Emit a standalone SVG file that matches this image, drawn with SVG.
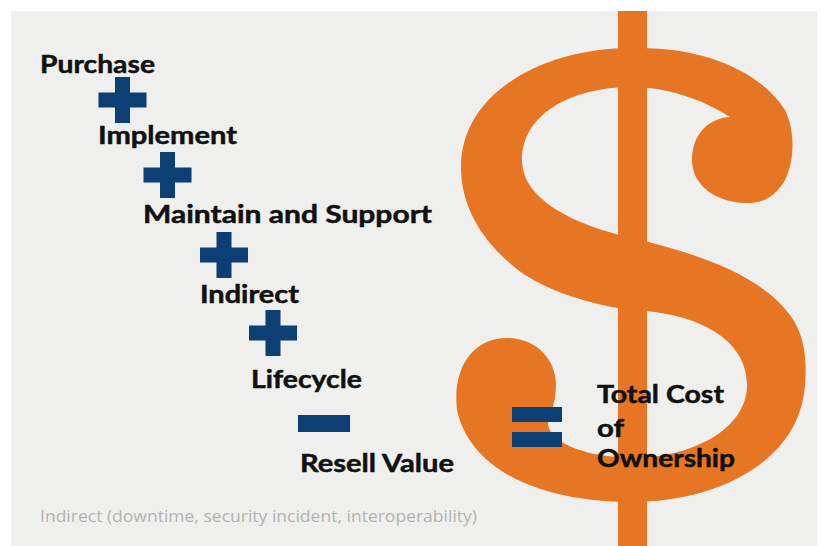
<svg xmlns="http://www.w3.org/2000/svg" width="824" height="546" viewBox="0 0 824 546">
  <style>
    .term { font-family: Lato, "Open Sans", "Liberation Sans", sans-serif; font-weight: 700; font-size: 25px; fill: #111111; stroke: #111111; stroke-width: 0.5px; }
    .op { fill: #0C3F74; }
    .note { font-family: "Open Sans", "Liberation Sans", sans-serif; font-size: 16px; fill: #b3b3b3; }
    .dollar { fill: #E67623; }
  </style>
  <defs>
    <path id="plus" d="M-7.5,-23 H7.5 V-7.5 H24 V7.5 H7.5 V23 H-7.5 V7.5 H-24 V-7.5 H-7.5 Z"/>
  </defs>
  <rect x="0" y="0" width="824" height="546" fill="#ffffff"/>
  <rect x="11" y="11" width="806" height="535" fill="#efefed"/>

  <g id="dollar-sign">
    <path class="dollar" d="M632,48
      C700,46 760,70 785,110
      C795,130 795,160 785,180
      C775,198 760,204 745,203
      C715,202 692,185 692,160
      C692,135 708,118 730,117
      C700,98 665,87 632,87
      C570,87 522,115 522,160
      C522,200 575,225 632,238
      C700,254 760,275 790,315
      C805,335 807,360 805,385
      C800,460 720,502 632,502
      C540,502 470,470 457,410
      C452,365 475,338 507,338
      C537,338 556,360 556,385
      C556,405 548,418 548,425
      C552,445 590,457 632,458
      C690,458 747,430 747,385
      C747,340 700,313 632,310
      C590,305 545,290 518,270
      C480,240 461,205 461,167
      C461,95 540,48 632,48 Z"/>
    <rect class="dollar" x="618" y="11" width="29" height="535"/>
  </g>

  <g id="purchase"><text class="term" x="40" y="73" textLength="115" lengthAdjust="spacingAndGlyphs">Purchase</text></g>
  <g id="implement"><text class="term" x="98" y="144" textLength="139" lengthAdjust="spacingAndGlyphs">Implement</text></g>
  <g id="maintain"><text class="term" x="143" y="223" textLength="289" lengthAdjust="spacingAndGlyphs">Maintain and Support</text></g>
  <g id="indirect"><text class="term" x="200" y="303" textLength="99" lengthAdjust="spacingAndGlyphs">Indirect</text></g>
  <g id="lifecycle"><text class="term" x="251" y="388" textLength="111" lengthAdjust="spacingAndGlyphs">Lifecycle</text></g>
  <g id="resell"><text class="term" x="300" y="472" textLength="154" lengthAdjust="spacingAndGlyphs">Resell Value</text></g>
  <g id="tco">
    <text class="term" x="597" y="403" textLength="127" lengthAdjust="spacingAndGlyphs">Total Cost</text>
    <text class="term" x="597" y="437" textLength="27" lengthAdjust="spacingAndGlyphs">of</text>
    <text class="term" x="597" y="467" textLength="138" lengthAdjust="spacingAndGlyphs">Ownership</text>
  </g>

  <g id="connectors">
    <use href="#plus" class="op" x="122.5" y="100"/>
    <use href="#plus" class="op" x="167.5" y="175"/>
    <use href="#plus" class="op" x="224" y="255"/>
    <use href="#plus" class="op" x="273" y="333"/>
    <rect class="op" x="298" y="415" width="52" height="17"/>
    <rect class="op" x="512" y="407" width="50" height="15"/>
    <rect class="op" x="512" y="432" width="50" height="15"/>
  </g>

  <g id="footnote"><text class="note" x="40" y="522" textLength="437" lengthAdjust="spacingAndGlyphs">Indirect (downtime, security incident, interoperability)</text></g>
</svg>
